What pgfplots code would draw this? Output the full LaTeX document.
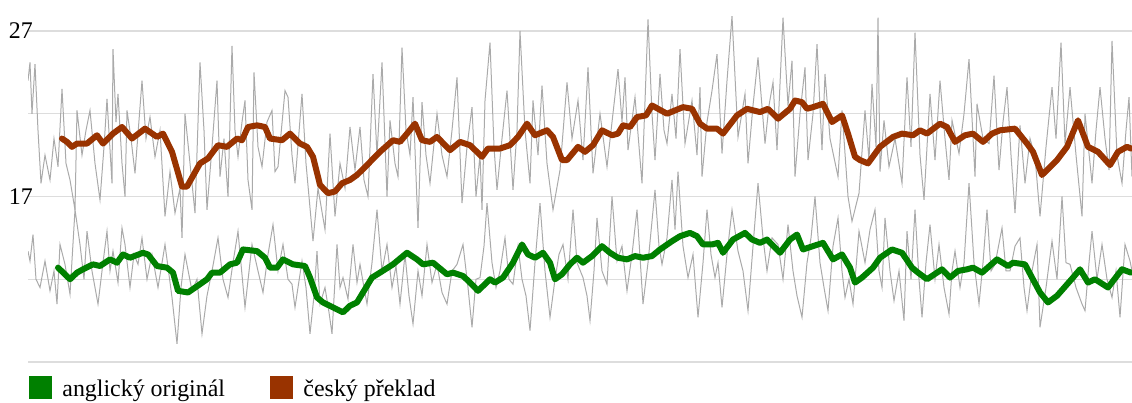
\documentclass[border=0pt]{standalone}
\usepackage{fontspec}
\setmainfont{Liberation Serif}
\usepackage{pgfplots}
\usepackage{pgfplotstable}
\pgfplotsset{compat=1.18}
\definecolor{gline}{RGB}{0,128,0}
\definecolor{rline}{RGB}{153,51,0}
\definecolor{raw}{RGB}{170,170,170}
\definecolor{gridc}{RGB}{221,221,221}

\pgfplotstableread{
x y
28 24.0
30 25.1
32 22.0
35 25.0
38 21.0
41 17.8
45 19.5
50 18.0
54 20.5
58 18.8
62 23.5
66 19.0
70 18.0
75 16.2
77 22.2
82 19.5
86 21.0
90 22.2
95 19.0
100 16.8
104 20.0
107 22.9
112 17.8
113 25.9
116 21.5
118 23.2
122 19.0
125 17.0
127 22.2
131 20.5
135 18.4
142 24.0
146 20.5
150 21.8
155 19.4
160 21.0
165 15.8
170 18.5
175 16.0
180 17.5
182 14.5
185 22.0
190 19.0
195 16.0
200 25.1
204 21.0
207 16.2
212 20.0
217 24.0
220 18.2
224 20.5
228 17.0
232 26.1
235 21.0
238 19.4
242 21.5
245 22.8
248 18.0
252 16.2
254 24.5
258 20.0
262 18.8
267 21.5
272 22.2
275 18.5
278 18.8
285 23.4
288 23.0
292 19.5
295 17.8
302 23.2
306 19.0
313 14.3
318 17.5
325 15.0
330 20.8
335 15.8
340 19.0
345 17.5
350 21.2
355 18.6
360 21.2
364 18.0
368 17.0
373 24.4
377 19.5
382 25.1
387 17.0
390 21.6
395 19.0
398 18.2
402 26.0
406 21.0
410 19.5
413 23.0
418 15.1
422 22.7
426 19.5
430 17.8
437 22.0
442 19.5
447 18.2
452 21.0
457 24.2
462 16.6
467 20.0
472 22.4
476 17.0
480 19.5
482 16.2
485 22.8
490 26.3
494 20.0
497 17.4
502 20.5
507 23.4
513 17.4
517 21.0
520 27.0
525 21.0
530 17.8
533 22.8
538 19.5
542 23.7
547 19.0
553 16.2
560 18.6
567 23.9
572 20.5
578 22.8
583 19.2
588 24.8
593 18.4
600 22.0
607 18.8
612 21.5
618 24.7
622 21.5
625 24.2
628 19.8
635 23.0
642 17.8
648 27.7
652 22.0
655 19.2
660 24.4
664 21.0
667 20.2
672 23.2
676 20.5
680 25.9
685 20.2
692 22.8
697 19.5
700 23.6
702 18.2
707 21.5
712 23.4
717 25.6
722 19.6
727 24.0
732 27.9
738 20.6
745 23.2
748 19.0
753 22.5
758 25.4
765 20.2
769 22.5
773 23.9
777 19.8
783 27.8
788 22.5
792 25.2
795 18.2
800 22.0
805 24.8
808 19.2
813 22.0
817 26.2
822 19.8
825 24.4
830 20.5
838 18.2
842 22.2
848 17.0
852 15.5
859 17.2
865 22.2
869 19.2
872 23.8
876 20.0
878 27.8
880 18.5
884 21.6
889 18.8
895 20.5
902 17.8
907 24.2
911 20.0
915 26.9
920 19.5
924 16.8
930 23.2
935 19.2
940 24.0
945 20.5
949 18.0
952 21.6
959 19.6
964 22.0
969 25.3
975 18.2
977 22.6
983 20.5
989 20.2
994 24.3
999 18.6
1003 21.5
1007 23.6
1011 19.5
1015 16.0
1020 21.3
1025 17.8
1030 20.5
1035 19.4
1040 15.8
1046 20.0
1052 23.6
1056 20.5
1061 26.3
1065 20.2
1070 23.6
1076 19.5
1082 15.8
1085 22.0
1092 17.8
1096 21.0
1100 23.6
1105 20.5
1109 18.6
1112 26.4
1117 19.5
1122 17.8
1126 21.0
1129 23.0
1132 18.2
}\rawcz

\pgfplotstableread{
x y
28 13.7
30 13.1
33 14.7
36 12.0
40 11.5
45 13.1
50 11.3
54 12.5
57 10.5
60 14.1
65 12.9
70 11.1
75 16.2
80 14.1
84 12.0
87 14.9
92 12.5
98 10.5
103 13.0
107 14.9
110 12.5
113 13.7
118 11.8
122 15.1
125 14.1
130 11.5
134 13.5
138 12.9
142 14.5
147 12.0
152 13.5
158 11.5
165 14.1
172 10.9
177 8.1
181 11.5
185 13.5
192 11.3
197 12.0
202 8.7
207 11.0
212 12.5
218 14.5
223 12.0
228 10.9
233 13.0
238 14.9
245 10.3
252 14.1
258 12.5
263 11.2
268 13.5
273 15.3
278 12.5
283 14.1
288 12.0
292 11.7
295 10.3
302 13.1
306 11.5
310 8.7
314 11.0
317 13.7
320 10.5
325 11.5
329 10.0
332 8.7
337 14.1
340 11.5
343 12.1
348 10.8
353 14.1
357 11.8
360 12.9
364 11.5
367 10.5
372 13.0
377 16.2
382 12.5
387 14.1
392 11.5
396 12.8
400 10.5
405 13.5
409 11.0
413 9.3
418 12.5
422 11.0
427 14.1
432 11.8
437 12.9
442 11.2
447 10.5
452 12.5
457 12.9
463 14.1
468 11.5
472 9.1
476 12.0
480 12.1
484 14.0
487 16.6
492 13.0
496 11.5
500 12.5
505 14.5
509 12.0
513 11.7
518 14.0
522 12.0
526 11.0
530 8.9
535 13.0
540 16.6
545 12.5
550 9.7
555 12.0
559 13.5
563 14.1
568 12.0
573 16.2
577 13.0
583 12.1
587 11.0
590 9.5
594 12.5
597 15.7
602 12.5
607 11.7
612 17.0
617 13.1
622 14.0
627 11.3
632 13.5
637 16.2
643 10.5
648 13.0
655 17.4
659 14.0
662 12.9
667 14.5
672 18.0
675 15.0
678 18.5
683 14.0
688 12.1
693 13.5
698 9.7
703 13.0
707 16.2
711 13.5
715 12.1
718 13.0
722 10.3
727 13.5
732 16.2
738 13.7
743 12.5
748 10.1
753 14.0
758 17.8
763 14.5
767 12.5
772 14.5
778 14.1
783 12.0
788 15.3
793 12.5
797 11.0
802 9.7
807 13.0
811 14.5
815 17.0
820 13.0
824 11.5
828 10.1
833 14.0
838 15.7
842 12.5
845 10.9
849 12.0
853 10.5
859 14.9
865 13.0
870 15.0
875 16.2
879 12.5
882 11.5
885 15.7
890 12.5
894 10.7
899 12.5
904 9.5
907 14.9
911 12.0
915 16.2
919 12.0
922 9.7
926 13.0
930 15.3
935 12.0
939 14.1
944 11.5
949 9.9
952 12.5
955 13.7
960 11.5
964 13.0
969 17.8
974 13.0
979 10.5
983 13.0
987 16.2
991 12.5
995 12.9
1002 15.1
1006 12.5
1010 12.5
1015 14.0
1020 14.5
1024 11.5
1027 10.1
1032 12.5
1037 14.1
1040 9.1
1046 11.5
1052 14.3
1057 12.0
1062 17.0
1066 13.0
1070 12.9
1076 11.5
1082 10.5
1085 10.1
1089 13.0
1092 14.9
1097 12.0
1102 14.1
1107 12.0
1112 10.9
1116 12.5
1120 9.7
1125 14.1
1130 13.1
1132 12.5
}\rawen

\pgfplotstableread{
x y
62 20.5
67 20.3
72 20.0
77 20.2
87 20.2
97 20.7
103 20.2
113 20.8
122 21.2
132 20.5
145 21.1
157 20.6
163 20.8
172 19.7
182 17.6
187 17.6
200 19.0
208 19.3
218 20.1
227 20.0
237 20.5
242 20.4
248 21.2
257 21.3
265 21.2
270 20.5
282 20.4
290 20.8
300 20.2
307 20.0
313 19.4
320 17.7
328 17.2
335 17.3
342 17.8
350 18.0
357 18.3
367 18.9
380 19.7
393 20.4
400 20.3
407 20.8
415 21.4
422 20.4
430 20.3
437 20.6
450 19.8
460 20.3
470 20.1
482 19.4
488 19.9
500 19.9
510 20.1
518 20.6
527 21.4
535 20.7
547 21.0
553 20.6
562 19.2
567 19.2
578 20.0
585 19.7
593 20.1
602 21.0
612 20.7
618 20.8
623 21.3
630 21.2
637 21.8
646 21.9
652 22.5
667 22.0
683 22.4
692 22.3
700 21.4
707 21.1
717 21.1
723 20.8
737 21.9
747 22.3
760 22.1
768 22.3
778 21.7
790 22.3
795 22.8
802 22.7
807 22.3
813 22.4
823 22.6
832 21.5
842 21.9
848 20.8
855 19.4
860 19.2
868 19.0
880 20.0
893 20.6
902 20.8
913 20.7
920 21.0
927 20.8
940 21.4
947 21.2
955 20.3
965 20.7
973 20.8
983 20.3
992 20.8
1000 21.0
1015 21.1
1027 20.2
1033 19.7
1042 18.3
1057 19.2
1067 20.0
1078 21.6
1088 20.0
1098 19.7
1110 18.9
1118 19.7
1127 20.0
1131 19.9
}\smcz

\pgfplotstableread{
x y
58 12.7
65 12.3
70 12.0
77 12.4
83 12.6
93 12.9
100 12.8
110 13.2
117 13.0
123 13.5
130 13.3
143 13.6
148 13.5
157 12.8
167 12.7
173 12.4
178 11.3
188 11.2
200 11.7
207 12.0
212 12.4
220 12.4
230 12.9
237 13.0
243 13.8
257 13.7
265 13.3
270 12.7
277 12.7
283 13.2
293 12.9
305 12.8
310 12.1
317 10.9
323 10.6
333 10.3
343 10.0
350 10.4
357 10.6
372 12.1
380 12.4
393 12.9
407 13.6
417 13.2
423 12.9
433 13.0
447 12.3
453 12.4
463 12.2
470 11.8
478 11.3
490 12.0
495 11.8
503 12.1
513 13.0
522 14.1
528 13.5
535 13.3
543 13.6
550 13.0
555 12.0
562 12.3
570 12.9
577 13.3
583 13.0
592 13.4
602 14.0
610 13.6
618 13.3
627 13.2
635 13.4
643 13.3
652 13.4
660 13.8
672 14.3
680 14.6
690 14.8
697 14.6
703 14.1
712 14.1
718 14.2
723 13.6
733 14.4
745 14.8
752 14.4
760 14.2
767 14.4
780 13.6
790 14.4
797 14.7
803 13.8
813 14.0
823 14.2
833 13.2
842 13.5
850 12.7
855 11.8
862 12.1
873 12.7
880 13.3
892 13.8
902 13.6
912 12.7
918 12.4
927 12.0
937 12.4
942 12.6
950 12.1
958 12.5
967 12.6
973 12.7
982 12.4
997 13.2
1008 12.8
1013 13.0
1025 12.9
1032 12.1
1040 11.2
1048 10.6
1057 11.0
1073 12.1
1080 12.6
1088 11.8
1095 12.0
1108 11.5
1122 12.6
1131 12.4
}\smen

\begin{document}
\begin{tikzpicture}
\begin{axis}[
  name=ax,
  scale only axis,
  width=1104bp, height=362bp,
  xmin=28, xmax=1132,
  ymin=7, ymax=28.873,
  axis line style={draw=none},
  tick style={draw=none},
  xtick=\empty,
  ytick={7,12,17,22,27},
  yticklabels={,,17,,27},
  ymajorgrids,
  grid style={gridc, line width=1.2bp},
  /pgf/number format/assume math mode=true,
  yticklabel style={anchor=east, inner sep=0pt, xshift=5bp, font=\fontsize{24}{28}\selectfont},
  legend columns=2,
  legend style={at={(rel axis cs:0,0)}, anchor=north west, xshift=1bp, yshift=-14bp,
    draw=none, fill=none, inner sep=0pt, outer sep=0pt,
    font=\fontsize{24}{28}\selectfont,
    nodes={inner sep=0pt},
    /tikz/every odd column/.append style={column sep=11bp},
    /tikz/every even column/.append style={column sep=45bp}},
  legend cell align=left,
]
\addplot[raw, line width=1bp, forget plot] table[x=x,y=y] {\rawcz};
\addplot[raw, line width=1bp, forget plot] table[x=x,y=y] {\rawen};
\addplot[gline, line width=6bp, line join=round, line cap=round, forget plot] table[x=x,y=y] {\smen};
\addplot[rline, line width=6bp, line join=round, line cap=round, forget plot] table[x=x,y=y] {\smcz};
\addlegendimage{legend image code/.code={\fill[gline] (0bp,-9.4bp) rectangle (22bp,12.6bp);}}
\addlegendentry{anglický originál}
\addlegendimage{legend image code/.code={\fill[rline] (0bp,-9.4bp) rectangle (22bp,12.6bp);}}
\addlegendentry{český překlad}
\end{axis}
\pgfresetboundingbox
\path ([xshift=-28bp,yshift=-41bp]ax.south west) rectangle (ax.north east);
\end{tikzpicture}
\end{document}
